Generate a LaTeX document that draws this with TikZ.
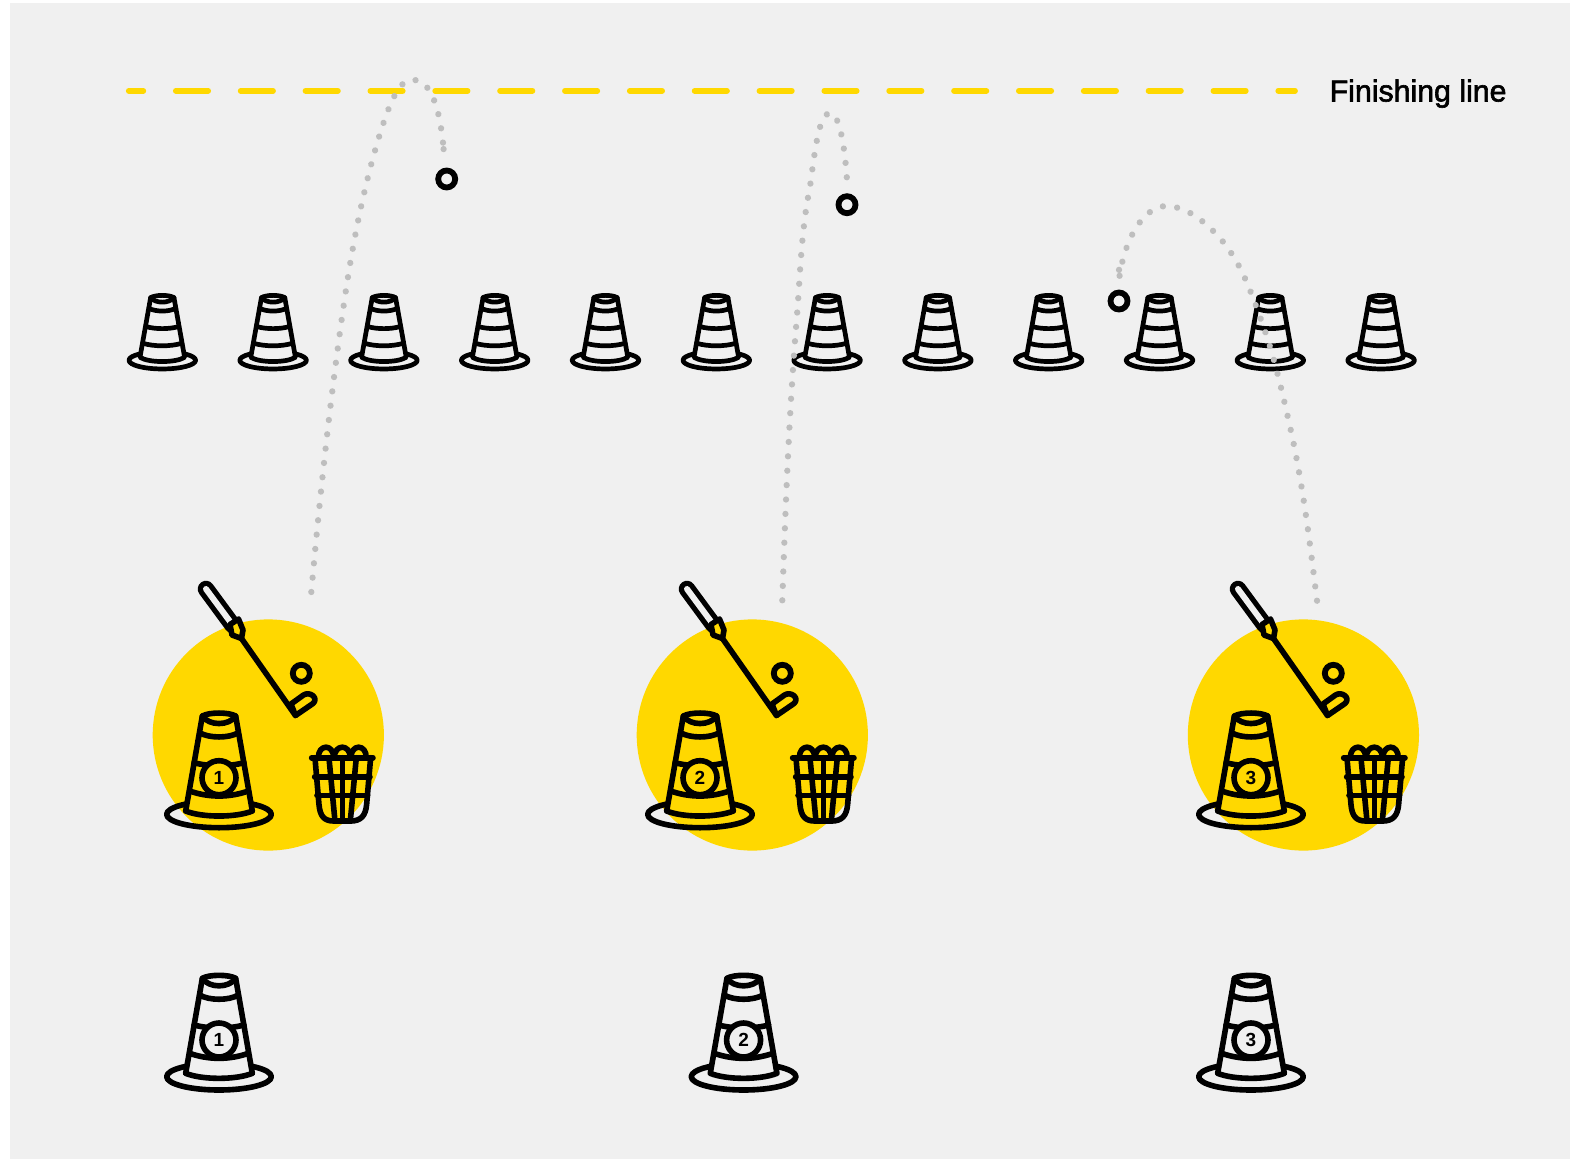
\documentclass[tikz,border=0pt]{standalone}
\usepackage{fontspec}
\setmainfont{Liberation Sans}
\newfontfamily\lab[FakeBold=2]{Liberation Sans}
\definecolor{bgcol}{HTML}{F0F0F0}
\definecolor{goldy}{HTML}{FFD800}
\definecolor{dotcol}{HTML}{BEBEBE}
\tikzset{
  ink/.style={draw=black,line width=#1,line cap=round,line join=round},
  ink/.default=5.6pt,
  ballnode/.style={circle,draw=black,line width=5.8pt,minimum size=17pt,inner sep=0pt,fill=none},
  numnode/.style={circle,draw=black,line width=5.6pt,minimum size=34pt,inner sep=0pt,font=\fontsize{19}{19}\selectfont\bfseries},
  dotline/.style={draw=dotcol,line width=6.3pt,line cap=round,dash pattern=on 0.01pt off 14.4pt},
  pics/bigcone/.style n args={2}{code={
    \draw[ink] (0,110) ellipse[x radius=157,y radius=40];
    \path[ink,fill=#1] (-50,-185) .. controls (-30,-197) and (30,-197) .. (50,-185)
       -- (100,100) .. controls (50,120) and (-50,120) .. (-100,100) -- cycle;
    \draw[ink] (-50,-185) .. controls (-30,-155) and (30,-155) .. (50,-185);
    \draw[ink] (-58,-135) .. controls (-30,-118) and (30,-118) .. (58,-135);
    \draw[ink] (-75,-45) .. controls (-30,-33) and (30,-33) .. (75,-45);
    \draw[ink] (-88,40) .. controls (-30,60) and (30,60) .. (88,40);
    \node[numnode,fill=#1] (-n) at (0,0) {#2};
  }},
  pics/smallcone/.style={code={
    \draw[ink=4.7pt] (0,0) ellipse[x radius=100,y radius=26];
    \path[ink=4.7pt,fill=bgcol] (-35,-188) .. controls (-20,-197) and (20,-197) .. (35,-188)
       -- (67,-9) .. controls (40,8) and (-40,8) .. (-67,-9) -- cycle;
    \draw[ink=4.7pt] (-35,-188) .. controls (-20,-170) and (20,-170) .. (35,-188);
    \draw[ink=4.7pt] (-40,-156) .. controls (-20,-145) and (20,-145) .. (40,-156);
    \draw[ink=4.7pt] (-48,-101) .. controls (-20,-93) and (20,-93) .. (48,-101);
    \draw[ink=4.7pt] (-58,-51) .. controls (-25,-41) and (25,-41) .. (58,-51);
  }},
  pics/basket/.style={code={
    \draw[ink] (-72,0) .. controls (-72,-42) and (-26,-42) .. (-26,0);
    \draw[ink] (-24,0) .. controls (-24,-42) and (24,-42) .. (24,0);
    \draw[ink] (26,0) .. controls (26,-42) and (72,-42) .. (72,0);
    \draw[ink] (-92,0) -- (92,0);
    \draw[ink] (-83,57) -- (83,57);
    \draw[ink] (-76,113) -- (76,113);
    \draw[ink] (-82,0) -- (-70,140) .. controls (-67,175) and (-55,190) .. (-25,190) -- (25,190)
       .. controls (55,190) and (70,175) .. (73,140) -- (85,0);
    \draw[ink] (-40,0) -- (-22,190);
    \draw[ink] (0,0) -- (0,190);
    \draw[ink] (42,0) -- (24,190);
  }},
  pics/club/.style={code={
    \draw[black,line width=16.5pt,line cap=round] (206,589) -- (232.5,625);
    \draw[bgcol,line width=6pt,line cap=round] (206,589) -- (230,621.5);
    \path[ink,fill=goldy] (230,624.5) -- (238.5,619) -- (243,630) -- (241.5,638.5) -- (232,635) -- cycle;
    \draw[ink] (241.5,638.5) -- (295.5,715.5);
    \path[ink,fill=goldy] (291,704) -- (303.5,695) .. controls (310,691) and (319,698) .. (313,703.5)
       -- (295.5,715.5) -- cycle;
    \node[ballnode] (-b) at (301.3,673.3) {};
  }}
}
\begin{document}
\begin{tikzpicture}[x=1pt,y=-1pt]
\useasboundingbox (0,0) rectangle (1577,1159);
\fill[bgcol] (10,3) rectangle (1570,1159);

% finishing line
\coordinate (fa) at (128.8,90.8);
\coordinate (fb) at (1295,90.8);
\draw[goldy,line width=5.8pt,line cap=round,dash pattern=on 32.3pt off 32.55pt,dash phase=17.8pt] (fa) -- (fb);
\node[anchor=base west,inner sep=0pt,font=\lab\fontsize{30.3}{30.3}\selectfont] (flabel) at (1329.5,101.5) {Finishing line};

% yellow circles
\fill[goldy] (268.3,735) circle[radius=115.6];
\fill[goldy] (752.3,735) circle[radius=115.6];
\fill[goldy] (1303.4,735) circle[radius=115.6];

% row of small cones
\foreach \i in {0,...,11}
  \pic[scale=1/3] (s\i) at ({162.3+110.8*\i},360.3) {smallcone};

% golf balls in flight
\node[ballnode] (ball1) at (446.7,179) {};
\node[ballnode] (ball2) at (847,204.7) {};
\node[ballnode] (ball3) at (1119,301) {};

% trajectories
\coordinate (t1) at (311.3,592);
\coordinate (t2) at (782.3,600.3);
\coordinate (t3) at (1317,600.7);
\draw[dotline,shorten >=26pt] (t1) .. controls (320,495) and (330.3,398) .. (344.3,301)
  .. controls (351.3,253) and (360,205.7) .. (373,157.7)
  .. controls (384,118.7) and (396,80) .. (411,80)
  .. controls (430,78) and (440,105) .. (444,153) -- (ball1);
\draw[dotline,shorten >=24pt] (t2) .. controls (785.5,506) and (789,413) .. (796.7,319.3)
  .. controls (800.3,275) and (801,231) .. (810,186.7)
  .. controls (815,150) and (819,113) .. (830,113)
  .. controls (840,113) and (845,150) .. (847,180) -- (ball2);
\draw[dotline,shorten >=21pt] (t3) .. controls (1310,544) and (1303,485) .. (1290.3,428)
  .. controls (1282,391) and (1273.5,353) .. (1259.7,316)
  .. controls (1248,284) and (1240,262) .. (1220,238)
  .. controls (1205,222) and (1188,207) .. (1167,206)
  .. controls (1143,206) and (1124,240) .. (1119,280) -- (ball3);

% tee stations
\foreach \dx/\n in {0/1,481/2,1032/3}{
  \pic (club\n) at (\dx,0) {club};
  \pic[scale=1/3] (cone\n) at ({219+\dx},777.7) {bigcone={goldy}{\n}};
  \pic[scale=1/3] (bask\n) at ({342.3+\dx},757.7) {basket};
}

% start cones
\foreach \x/\n in {219/1,743.6/2,1251/3}
  \pic[scale=1/3] (start\n) at (\x,1040) {bigcone={bgcol}{\n}};
\end{tikzpicture}
\end{document}
